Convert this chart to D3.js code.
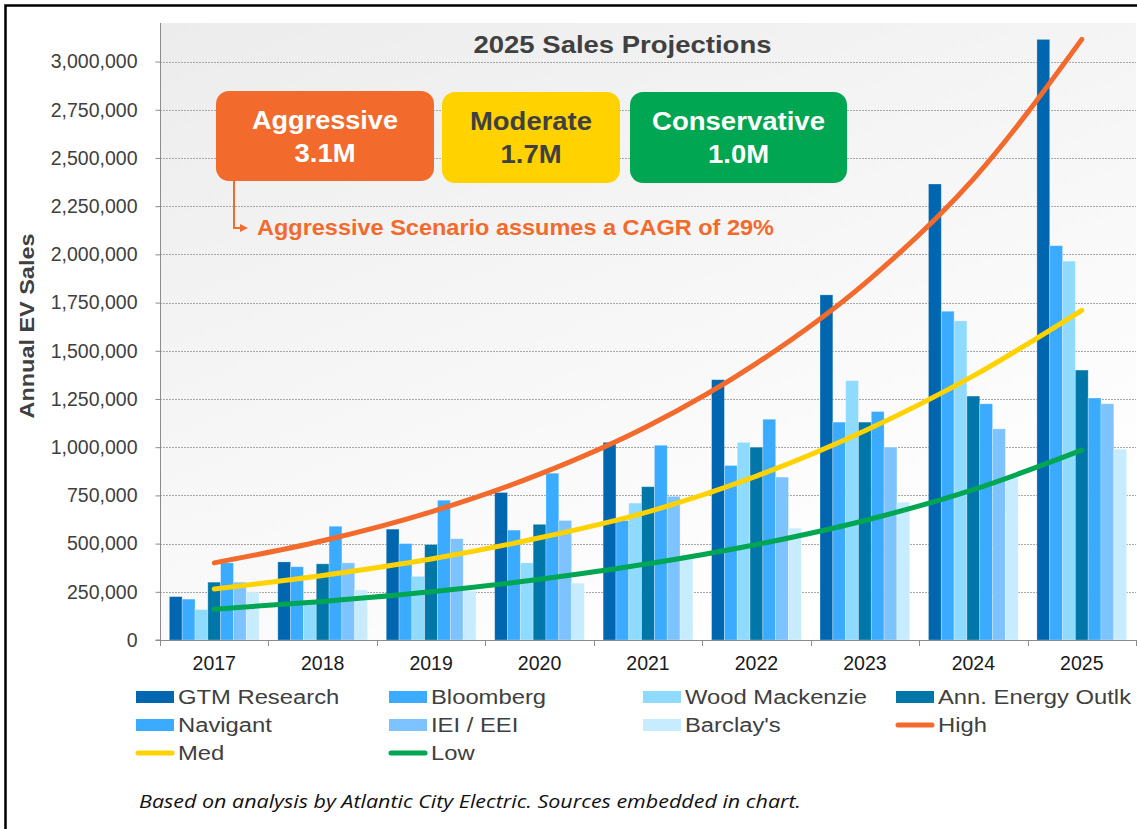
<!DOCTYPE html>
<html>
<head>
<meta charset="utf-8">
<script src="https://cdn.jsdelivr.net/npm/d3@7"></script>
<style>
  html, body { margin: 0; padding: 0; background: #ffffff; }
  svg { display: block; }
</style>
</head>
<body>
<svg id="chart" width="1137" height="829"></svg>
<script>
// ---------------- DATA ----------------
const years = ["2017", "2018", "2019", "2020", "2021", "2022", "2023", "2024", "2025"];
const sourceNames = ["GTM Research", "Bloomberg", "Wood Mackenzie", "Ann. Energy Outlk", "Navigant", "IEI / EEI", "Barclay's"];
const gtmResearch     = [225000, 405000, 575000, 765000, 1025000, 1350000, 1790000, 2365000, 3115000];
const bloomberg       = [212000, 380000, 500000, 570000, 620000, 905000, 1130000, 1705000, 2045000];
const woodMackenzie   = [158000, 200000, 330000, 400000, 710000, 1025000, 1345000, 1655000, 1965000];
const annEnergyOutlk  = [300000, 395000, 495000, 600000, 795000, 1000000, 1130000, 1265000, 1400000];
const navigant        = [400000, 590000, 725000, 865000, 1010000, 1145000, 1185000, 1225000, 1255000];
const ieiEei          = [300000, 400000, 525000, 620000, 745000, 845000, 1000000, 1095000, 1225000];
const barclays        = [247000, 260000, 255000, 295000, 420000, 580000, 715000, 850000, 990000];
const lineNames = ["High", "Med", "Low"];
const high = [400000, 515000, 665000, 860000, 1110000, 1435000, 1850000, 2390000, 3115000];
const med  = [265000, 335000, 420000, 530000, 665000, 850000, 1085000, 1370000, 1710000];
const low  = [160000, 200000, 250000, 315000, 395000, 495000, 620000, 780000, 985000];
const yTicks = [0, 250000, 500000, 750000, 1000000, 1250000, 1500000, 1750000, 2000000, 2250000, 2500000, 2750000, 3000000];
const scenarioNames = ["Aggressive", "Moderate", "Conservative"];
const scenarioValues = ["3.1M", "1.7M", "1.0M"];
const chartTitle = "2025 Sales Projections";
const yAxisTitle = "Annual EV Sales";
const annotation = "Aggressive Scenario assumes a CAGR of 29%";
const footnote = "Based on analysis by Atlantic City Electric. Sources embedded in chart.";

// ---------------- STYLE ----------------
const barSeries = [gtmResearch, bloomberg, woodMackenzie, annEnergyOutlk, navigant, ieiEei, barclays];
const barColors = ["#0066b0", "#3aabff", "#8fdbff", "#0077a8", "#3aabff", "#7cc3ff", "#c8ecff"];
const lineSeries = [high, med, low];
const lineColors = ["#f26a2c", "#ffd200", "#00a651"];
const boxColors = ["#f26a2c", "#ffd200", "#00a651"];
const boxTextColors = ["#ffffff", "#404040", "#ffffff"];
const textGray = "#404040";
const FONT = "'Liberation Sans', Arial, sans-serif";

const svg = d3.select("#chart");
const plot = { left: 160, right: 1136, top: 23, bottom: 640 };

// background gradient for plot area
const defs = svg.append("defs");
const grad = defs.append("linearGradient").attr("id", "bg")
  .attr("x1", "0").attr("y1", "0").attr("x2", "0.6").attr("y2", "1");
grad.append("stop").attr("offset", "0").attr("stop-color", "#ececec");
grad.append("stop").attr("offset", "1").attr("stop-color", "#ffffff");

svg.append("rect")
  .attr("x", plot.left).attr("y", plot.top)
  .attr("width", plot.right - plot.left).attr("height", plot.bottom - plot.top)
  .attr("fill", "url(#bg)");

// scales
const y = d3.scaleLinear().domain([0, 3200000]).range([plot.bottom, plot.top]);
const x0 = d3.scaleBand().domain(years).range([plot.left, plot.right]).padding(0);
const x1 = d3.scaleBand().domain(d3.range(barSeries.length))
  .range([0, x0.bandwidth()]).paddingInner(0).paddingOuter(0.73);

// gridlines
svg.append("g").selectAll("line").data(yTicks.filter(d => d > 0)).join("line")
  .attr("x1", plot.left).attr("x2", plot.right)
  .attr("y1", d => Math.round(y(d)) + 0.5).attr("y2", d => Math.round(y(d)) + 0.5)
  .attr("stroke", "#a8a8a8").attr("stroke-width", 1).attr("stroke-dasharray", "2,1");

// bars
const groups = svg.append("g").selectAll("g").data(years).join("g")
  .attr("transform", d => `translate(${x0(d)},0)`);
groups.selectAll("rect")
  .data((yr, i) => barSeries.map((s, k) => ({ k, v: s[i] })))
  .join("rect")
  .attr("x", d => x1(d.k))
  .attr("width", x1.bandwidth())
  .attr("y", d => y(d.v))
  .attr("height", d => y(0) - y(d.v))
  .attr("fill", d => barColors[d.k])
  .attr("stroke", "rgba(255,255,255,0.35)")
  .attr("stroke-width", 0.8);

// lines
const lineGen = d3.line()
  .x((d, i) => x0(years[i]) + x0.bandwidth() / 2)
  .y(d => y(d))
  .curve(d3.curveMonotoneX);
svg.append("g").selectAll("path").data(lineSeries).join("path")
  .attr("d", d => lineGen(d))
  .attr("fill", "none")
  .attr("stroke", (d, i) => lineColors[i])
  .attr("stroke-width", 5)
  .attr("stroke-linecap", "round");

// y axis
const yAxis = d3.axisLeft(y).tickValues(yTicks).tickSize(5).tickPadding(18)
  .tickFormat(d3.format(","));
const yg = svg.append("g").attr("transform", `translate(${plot.left + 0.5},0)`).call(yAxis);
yg.select(".domain").attr("stroke", "#8c8c8c").attr("d", `M-5,${y(0)}H0V${plot.top}`);
yg.selectAll(".tick line").attr("stroke", "#8c8c8c");
yg.selectAll(".tick text").attr("fill", textGray).attr("font-family", FONT).attr("font-size", 19.5);

// x axis
const xAxis = d3.axisBottom(x0).tickSize(0).tickPadding(16);
const xg = svg.append("g").attr("transform", `translate(0,${plot.bottom + 0.5})`).call(xAxis);
xg.select(".domain").attr("stroke", "#8c8c8c").attr("d", `M${plot.left},0H${plot.right}`);
xg.selectAll(".tick text").attr("fill", "#1a1a1a").attr("font-family", FONT).attr("font-size", 19.5);
// category boundary tick marks
svg.append("g").selectAll("line").data(years.concat(["end"])).join("line")
  .attr("x1", (d, i) => Math.round(plot.left + i * x0.step()) + 0.5)
  .attr("x2", (d, i) => Math.round(plot.left + i * x0.step()) + 0.5)
  .attr("y1", plot.bottom).attr("y2", plot.bottom + 6)
  .attr("stroke", "#8c8c8c");

// y-axis title
svg.append("text")
  .attr("transform", "translate(34,326) rotate(-90)")
  .attr("text-anchor", "middle")
  .attr("font-family", FONT).attr("font-weight", "bold").attr("font-size", 20)
  .attr("fill", textGray)
  .attr("textLength", 185).attr("lengthAdjust", "spacingAndGlyphs")
  .text(yAxisTitle);

// chart title
svg.append("text")
  .attr("x", 622.5).attr("y", 53)
  .attr("text-anchor", "middle")
  .attr("font-family", FONT).attr("font-weight", "bold").attr("font-size", 24)
  .attr("fill", textGray)
  .attr("textLength", 298).attr("lengthAdjust", "spacingAndGlyphs")
  .text(chartTitle);

// scenario boxes
const boxes = [
  { x: 216, y: 91, w: 218, h: 90 },
  { x: 442, y: 92, w: 178, h: 91 },
  { x: 630, y: 92, w: 217, h: 91 }
];
const nameWidths = [146, 122, 173];
boxes.forEach((b, i) => {
  svg.append("rect").attr("x", b.x).attr("y", b.y).attr("width", b.w).attr("height", b.h)
    .attr("rx", 13).attr("ry", 13).attr("fill", boxColors[i]);
  svg.append("text").attr("x", b.x + b.w / 2).attr("y", b.y + 38)
    .attr("text-anchor", "middle").attr("font-family", FONT).attr("font-weight", "bold")
    .attr("font-size", 25).attr("fill", boxTextColors[i])
    .attr("textLength", nameWidths[i]).attr("lengthAdjust", "spacingAndGlyphs")
    .text(scenarioNames[i]);
  svg.append("text").attr("x", b.x + b.w / 2).attr("y", b.y + 71)
    .attr("text-anchor", "middle").attr("font-family", FONT).attr("font-weight", "bold")
    .attr("font-size", 25).attr("fill", boxTextColors[i])
    .attr("textLength", 61).attr("lengthAdjust", "spacingAndGlyphs")
    .text(scenarioValues[i]);
});

// annotation arrow and text
defs.append("marker").attr("id", "arrow").attr("viewBox", "0 0 10 10")
  .attr("refX", 5).attr("refY", 5).attr("markerWidth", 4).attr("markerHeight", 4)
  .attr("orient", "auto")
  .append("path").attr("d", "M0,0L10,5L0,10z").attr("fill", "#f26a2c");
svg.append("path").attr("d", "M234,181V228H244")
  .attr("fill", "none").attr("stroke", "#f26a2c").attr("stroke-width", 2)
  .attr("marker-end", "url(#arrow)");
svg.append("text").attr("x", 257).attr("y", 235)
  .attr("font-family", FONT).attr("font-weight", "bold").attr("font-size", 22)
  .attr("fill", "#f26a2c")
  .attr("textLength", 517).attr("lengthAdjust", "spacingAndGlyphs")
  .text(annotation);

// legend
const legendItems = sourceNames.map((n, i) => ({ name: n, color: barColors[i], type: "bar" }))
  .concat(lineNames.map((n, i) => ({ name: n, color: lineColors[i], type: "line" })));
const colX = [136, 389, 643, 896];
const rowY = [697, 725, 753];
const lg = svg.append("g").selectAll("g").data(legendItems).join("g")
  .attr("transform", (d, i) => `translate(${colX[i % 4]},${rowY[Math.floor(i / 4)]})`);
lg.filter(d => d.type === "bar").append("rect")
  .attr("x", 0).attr("y", -6).attr("width", 38).attr("height", 12).attr("fill", d => d.color);
lg.filter(d => d.type === "line").append("line")
  .attr("x1", 2).attr("x2", 36).attr("y1", 0).attr("y2", 0)
  .attr("stroke", d => d.color).attr("stroke-width", 5).attr("stroke-linecap", "round");
lg.append("text")
  .attr("transform", "translate(42,7) scale(1.19,1)")
  .attr("font-family", FONT).attr("font-size", 20).attr("fill", textGray)
  .text(d => d.name);

// footnote
svg.append("text").attr("x", 139).attr("y", 808)
  .attr("font-family", "'Open Sans', 'Liberation Sans', sans-serif").attr("font-style", "italic")
  .attr("font-size", 17.5).attr("fill", "#111")
  .attr("textLength", 662).attr("lengthAdjust", "spacingAndGlyphs")
  .text(footnote);

// outer frame (top and left edges visible)
svg.append("path").attr("d", "M5.5,829V5.5H1137")
  .attr("fill", "none").attr("stroke", "#000").attr("stroke-width", 2.5);
</script>
</body>
</html>
